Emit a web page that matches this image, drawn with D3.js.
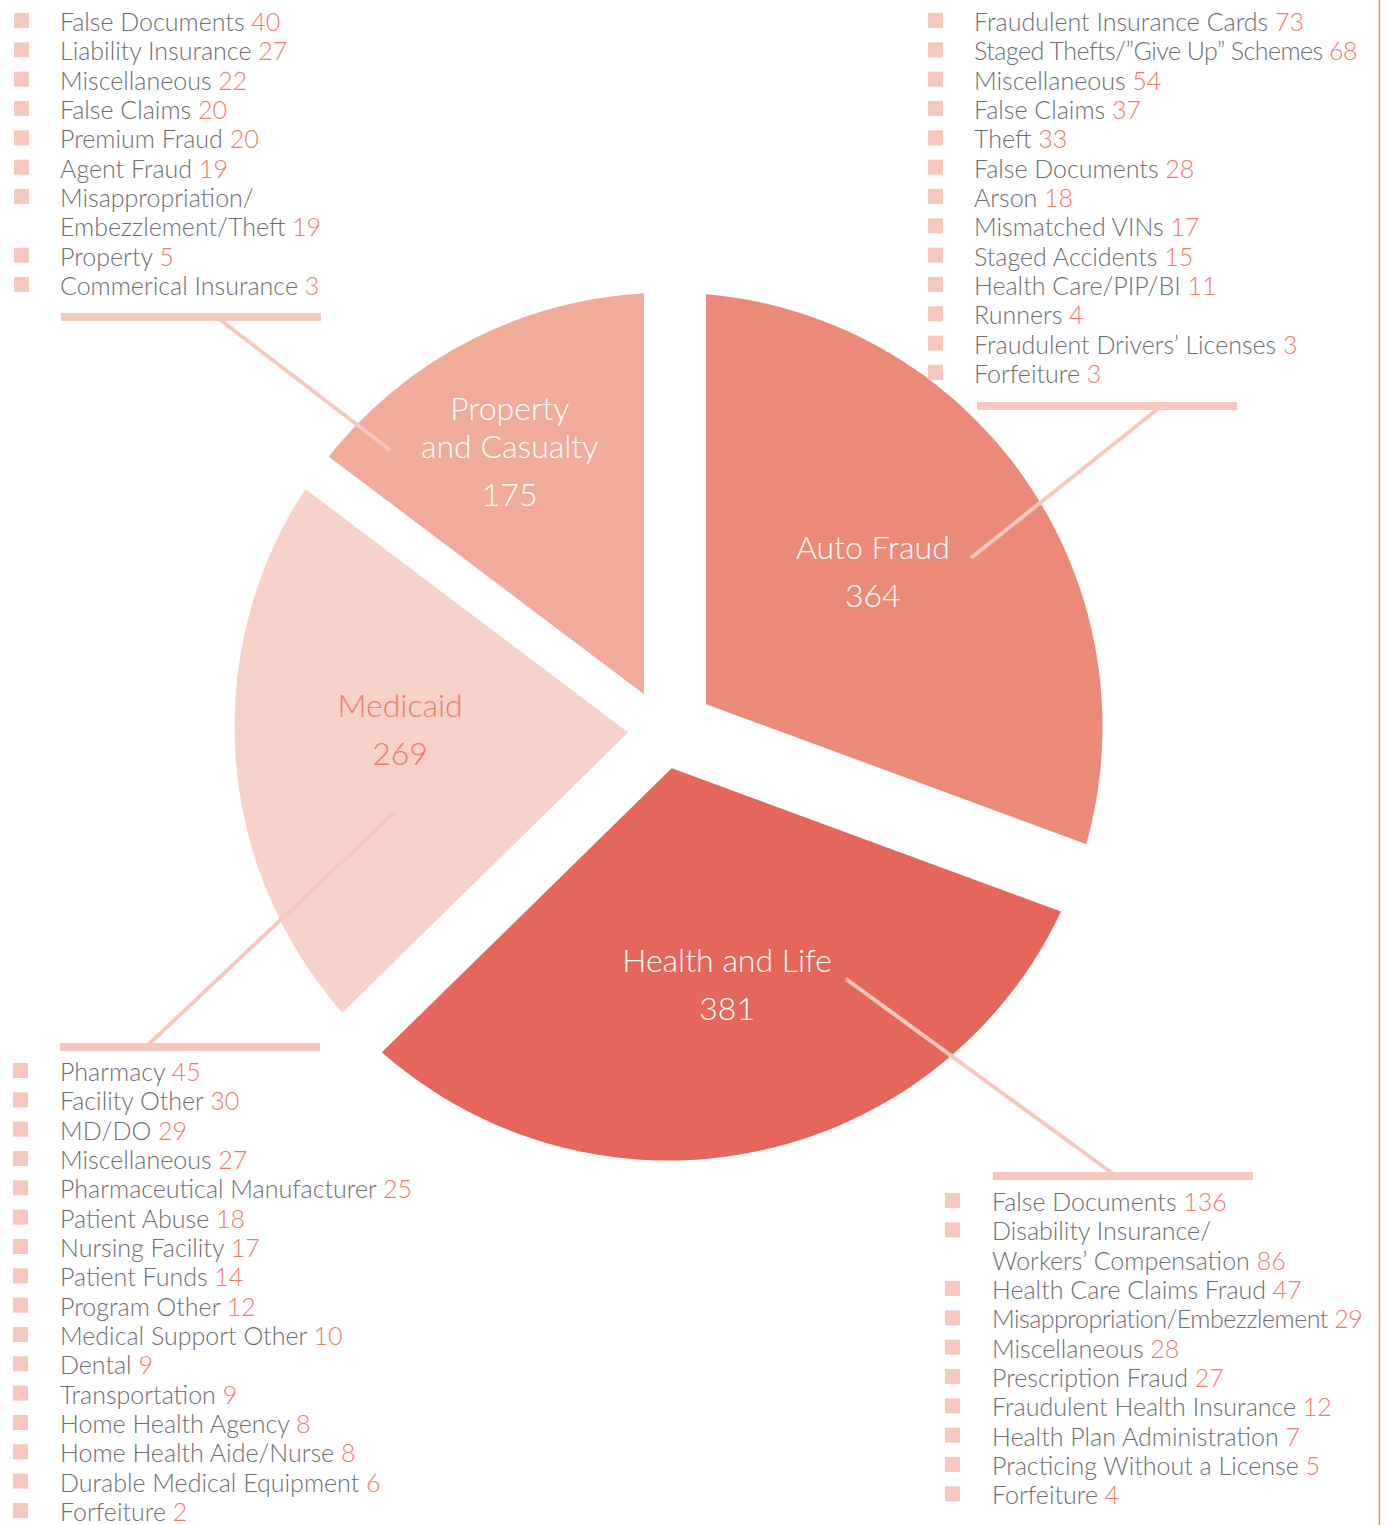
<!DOCTYPE html>
<html>
<head>
<meta charset="utf-8">
<script src="https://cdn.jsdelivr.net/npm/d3@7"></script>
<style>
  body { margin: 0; background: #fff; }
  svg { display: block; font-family: Lato, "Open Sans", sans-serif; font-weight: 300; }
</style>
</head>
<body>
<svg id="chart" width="1389" height="1525"></svg>
<script>
// main categories, clockwise from 12 o'clock
var categories = ["Auto Fraud", "Health and Life", "Medicaid", "Property\nand Casualty"];
var totals = [364, 381, 269, 175];

var autoLabels = ["Fraudulent Insurance Cards", "Staged Thefts/\u201DGive Up\u201D Schemes", "Miscellaneous",
  "False Claims", "Theft", "False Documents", "Arson", "Mismatched VINs", "Staged Accidents",
  "Health Care/PIP/BI", "Runners", "Fraudulent Drivers\u2019 Licenses", "Forfeiture"];
var autoValues = [73, 68, 54, 37, 33, 28, 18, 17, 15, 11, 4, 3, 3];

var healthLabels = ["False Documents", "Disability Insurance/\nWorkers\u2019 Compensation", "Health Care Claims Fraud",
  "Misappropriation/Embezzlement", "Miscellaneous", "Prescription Fraud", "Fraudulent Health Insurance",
  "Health Plan Administration", "Practicing Without a License", "Forfeiture"];
var healthValues = [136, 86, 47, 29, 28, 27, 12, 7, 5, 4];

var medicaidLabels = ["Pharmacy", "Facility Other", "MD/DO", "Miscellaneous", "Pharmaceutical Manufacturer",
  "Patient Abuse", "Nursing Facility", "Patient Funds", "Program Other", "Medical Support Other", "Dental",
  "Transportation", "Home Health Agency", "Home Health Aide/Nurse", "Durable Medical Equipment", "Forfeiture"];
var medicaidValues = [45, 30, 29, 27, 25, 18, 17, 14, 12, 10, 9, 9, 8, 8, 6, 2];

var propertyLabels = ["False Documents", "Liability Insurance", "Miscellaneous", "False Claims", "Premium Fraud",
  "Agent Fraud", "Misappropriation/\nEmbezzlement/Theft", "Property", "Commerical Insurance"];
var propertyValues = [40, 27, 22, 20, 20, 19, 19, 5, 3];

var sliceColors = ["#ec8a79", "#e5665a", "#f7d2c8", "#f0ab9b"];
var labelColors = ["#ffffff", "#ffffff", "#ee7a67", "#ffffff"];
var pale = "#f6c8bd";
var grey = "#6d6e71";
var numColor = "#ee7a67";

var cx = 668.5, cy = 726.5, radius = 434;

var svg = d3.select("#chart");

var pie = d3.pie().sort(null).value(function (d) { return d; });
var arcs = pie(totals);

var arc = d3.arc().innerRadius(0).outerRadius(radius);

var pieG = svg.append("g").attr("transform", "translate(" + cx + "," + cy + ")");

pieG.selectAll("path.slice")
  .data(arcs)
  .enter()
  .append("path")
  .attr("class", "slice")
  .attr("d", arc)
  .attr("fill", function (d, i) { return sliceColors[i]; });

// white cuts along the slice borders (width and sideways shift for each border)
var gapWidth = [62, 72, 56, 40];
var gapShift = [6.5, 2, -4, -9];

pieG.selectAll("line.gap")
  .data(arcs)
  .enter()
  .append("line")
  .attr("class", "gap")
  .attr("x1", function (d, i) {
    var a = d.startAngle;
    return -15 * Math.sin(a) + gapShift[i] * Math.cos(a);
  })
  .attr("y1", function (d, i) {
    var a = d.startAngle;
    return 15 * Math.cos(a) + gapShift[i] * Math.sin(a);
  })
  .attr("x2", function (d, i) {
    var a = d.startAngle;
    return (radius + 30) * Math.sin(a) + gapShift[i] * Math.cos(a);
  })
  .attr("y2", function (d, i) {
    var a = d.startAngle;
    return -(radius + 30) * Math.cos(a) + gapShift[i] * Math.sin(a);
  })
  .attr("stroke", "#fff")
  .attr("stroke-width", function (d, i) { return gapWidth[i]; });

// slice labels
var labelRadius = [254, 270, 269, 300];
var labelNudge = [[-4, -10], [2, -6], [0, -15], [-25, -7]];
var labelG = pieG.selectAll("text.cat")
  .data(arcs)
  .enter()
  .append("text")
  .attr("class", "cat")
  .attr("text-anchor", "middle")
  .attr("font-size", 32)
  .attr("fill", function (d, i) { return labelColors[i]; })
  .attr("transform", function (d, i) {
    var c = d3.arc().innerRadius(labelRadius[i]).outerRadius(labelRadius[i]).centroid(d);
    var lines = categories[i].split("\n").length;
    return "translate(" + (c[0] + labelNudge[i][0]) + "," +
      (c[1] - 12 - (lines - 1) * 19 + labelNudge[i][1]) + ")";
  });

labelG.each(function (d, i) {
  var t = d3.select(this);
  var lines = categories[i].split("\n");
  lines.forEach(function (l, j) {
    t.append("tspan").attr("x", 0).attr("dy", j === 0 ? 0 : 38).text(l);
  });
  t.append("tspan").attr("x", 0).attr("dy", 48).text(totals[i]);
});

// leader lines and the bars over/under each list
var leaders = [
  { from: [971, 558], to: [1159, 408], bar: [977, 402] },
  { from: [846, 979], to: [1112, 1173], bar: [993, 1172] },
  { from: [395, 812], to: [148, 1045], bar: [60, 1043] },
  { from: [390, 450], to: [219, 319], bar: [61, 313] }
];

svg.selectAll("rect.bar")
  .data(leaders)
  .enter()
  .append("rect")
  .attr("class", "bar")
  .attr("x", function (d) { return d.bar[0]; })
  .attr("y", function (d) { return d.bar[1]; })
  .attr("width", 260)
  .attr("height", 8)
  .attr("fill", pale);

svg.selectAll("line.leader")
  .data(leaders)
  .enter()
  .append("line")
  .attr("class", "leader")
  .attr("x1", function (d) { return d.from[0]; })
  .attr("y1", function (d) { return d.from[1]; })
  .attr("x2", function (d) { return d.to[0]; })
  .attr("y2", function (d) { return d.to[1]; })
  .attr("stroke", pale)
  .attr("stroke-width", 4);

// legend lists
var rowH = 29.33;
var lists = [
  { labels: autoLabels, values: autoValues, sx: 928, tx: 974, y0: 31 },
  { labels: healthLabels, values: healthValues, sx: 945, tx: 992, y0: 1211 },
  { labels: medicaidLabels, values: medicaidValues, sx: 13, tx: 60, y0: 1081 },
  { labels: propertyLabels, values: propertyValues, sx: 14, tx: 60, y0: 31 }
];

lists.forEach(function (list) {
  var g = svg.append("g");
  var row = 0;
  list.labels.forEach(function (label, i) {
    var y = list.y0 + row * rowH;
    g.append("rect")
      .attr("x", list.sx)
      .attr("y", y - 18)
      .attr("width", 15)
      .attr("height", 15)
      .attr("fill", pale);
    var parts = label.split("\n");
    parts.forEach(function (p, j) {
      var t = g.append("text")
        .attr("x", list.tx)
        .attr("y", y + j * rowH)
        .attr("font-size", 25)
        .attr("fill", grey);
      // the slash is wide in this font, pull long lines in a little
      if (p.length > 26 && p.indexOf("/") >= 0) t.attr("letter-spacing", -0.5);
      t.append("tspan").text(p);
      if (j === parts.length - 1) {
        t.append("tspan").attr("fill", numColor).text(" " + list.values[i]);
      }
    });
    row += parts.length;
  });
});

// thin rule on the right edge
svg.append("line")
  .attr("x1", 1379.5)
  .attr("x2", 1379.5)
  .attr("y1", 0)
  .attr("y2", 1525)
  .attr("stroke", "#ee8f80")
  .attr("stroke-width", 1.5);
</script>
</body>
</html>
